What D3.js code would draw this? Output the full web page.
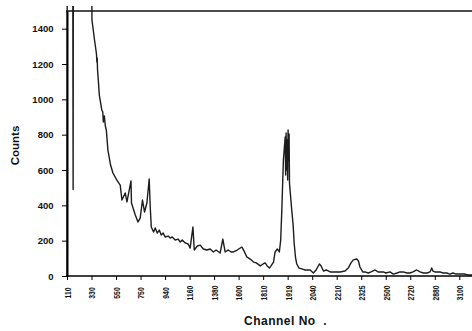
<!DOCTYPE html>
<html>
<head>
<meta charset="utf-8">
<script src="https://cdn.jsdelivr.net/npm/d3@7"></script>
<style>
  body { margin: 0; background: #fff; }
  svg { display: block; font-family: "Liberation Sans", Arial, sans-serif; }
</style>
</head>
<body>
<svg id="chart" width="472" height="331"></svg>
<script>
// tick labels on the channel axis (evenly spaced on the picture)
const tickChannels = [110, 330, 550, 750, 940, 1160, 1380, 1600, 1810, 1919, 2040, 2210, 2325, 2500, 2720, 2880, 3100];
const yTicks = [0, 200, 400, 600, 800, 1000, 1200, 1400];

// spectrum
const channels = [
  110, 113, 160, 165, 168, 326, 334, 357, 372, 375, 378, 381, 384, 391, 400, 422, 431, 436, 445, 454,
  463, 477, 501, 522, 557, 584, 598, 625, 639, 672, 676, 707, 729, 747, 765, 781, 799, 817, 825, 833,
  851, 864, 879, 895, 910, 925, 941, 968, 986, 1004, 1031, 1058, 1076, 1094, 1121, 1147, 1165, 1190, 1202, 1229,
  1256, 1283, 1315, 1345, 1374, 1398, 1434, 1458, 1479, 1506, 1533, 1554, 1587, 1628, 1647, 1670, 1699, 1728, 1751, 1785,
  1810, 1819, 1828, 1838, 1845, 1856, 1863, 1873, 1882, 1888, 1893, 1900, 1908, 1910, 1912, 1915, 1917, 1919, 1921, 1924,
  1926, 1928, 1932, 1939, 1946, 1951, 1958, 1964, 1975, 1989, 2005, 2020, 2030, 2048, 2067, 2090, 2102, 2118, 2137, 2165,
  2200, 2226, 2249, 2264, 2277, 2288, 2304, 2312, 2319, 2336, 2352, 2376, 2395, 2424, 2445, 2483, 2502, 2538, 2568, 2601,
  2628, 2657, 2690, 2717, 2738, 2762, 2784, 2806, 2830, 2849, 2860, 2868, 2881, 2927, 2954, 2987, 3017, 3044, 3071, 3106,
  3142, 3178, 3214
];
const counts = [
  0, 2500, 2500, 490, 2500, 2500, 1449, 1336, 1268, 1251, 1211, 1234, 1166, 1109, 1024, 940, 928, 872, 906, 849,
  826, 713, 628, 583, 543, 515, 430, 470, 419, 538, 413, 345, 306, 328, 430, 362, 413, 549, 391, 277,
  249, 272, 243, 260, 232, 243, 221, 226, 215, 221, 204, 209, 192, 204, 187, 181, 158, 277, 147, 170,
  175, 153, 147, 153, 136, 147, 130, 209, 136, 147, 136, 136, 147, 164, 141, 108, 96, 79, 74, 57,
  68, 74, 57, 45, 57, 79, 136, 153, 136, 204, 374, 657, 787, 572, 810, 600, 770, 543, 826, 657,
  804, 526, 470, 374, 289, 187, 102, 68, 45, 40, 34, 34, 34, 17, 34, 68, 57, 28, 34, 23,
  23, 23, 28, 45, 74, 91, 96, 85, 51, 23, 23, 17, 23, 34, 23, 23, 17, 23, 11, 17,
  23, 23, 17, 17, 23, 34, 23, 17, 17, 23, 45, 28, 23, 23, 17, 17, 11, 17, 11, 11,
  11, 6, 6
];

const W = 472, H = 331;
const plotLeft = 67, plotBottom = 276, plotTop = 11;

const svg = d3.select('#chart');
svg.append('rect').attr('width', W).attr('height', H).attr('fill', '#fff');

const tickPos = d3.scalePoint().domain(tickChannels).range([plotLeft, 459.3]);
const x = d3.scaleLinear()
  .domain(tickChannels)
  .range(tickChannels.map(d => tickPos(d)));

const y = d3.scaleLinear().domain([0, 1500]).range([plotBottom, plotTop]);

svg.append('clipPath').attr('id', 'plot')
  .append('rect').attr('x', plotLeft - 1).attr('y', 6)
  .attr('width', W - plotLeft + 1).attr('height', plotBottom - 6 + 1);

// top border of plot
svg.append('line')
  .attr('x1', plotLeft - 1).attr('x2', W)
  .attr('y1', y(1500)).attr('y2', y(1500))
  .attr('stroke', '#111').attr('stroke-width', 1.6);

const line = d3.line()
  .x((d, i) => x(channels[i]))
  .y(d => y(d));

svg.append('path')
  .datum(counts)
  .attr('clip-path', 'url(#plot)')
  .attr('fill', 'none')
  .attr('stroke', '#1c1c1c')
  .attr('stroke-width', 1.4)
  .attr('stroke-linejoin', 'round')
  .attr('d', line);

// y axis
const yAxis = svg.append('g')
  .attr('transform', `translate(${plotLeft},0)`)
  .call(d3.axisLeft(y).tickValues(yTicks).tickFormat(d3.format('d'))
    .tickSize(5).tickSizeOuter(0).tickPadding(8.5));
yAxis.select('.domain').attr('stroke', '#000').attr('stroke-width', 2);
yAxis.selectAll('.tick line').attr('stroke', '#000');
yAxis.selectAll('.tick text')
  .attr('font-size', 9.5).attr('font-weight', 'bold').attr('fill', '#111');

// x axis
const xAxis = svg.append('g')
  .attr('transform', `translate(0,${plotBottom})`)
  .call(d3.axisBottom(x).tickValues(tickChannels).tickFormat(d3.format('d'))
    .tickSize(4).tickSizeOuter(0));
xAxis.select('.domain').remove();
xAxis.selectAll('.tick line').attr('stroke', '#000');
xAxis.selectAll('.tick text')
  .attr('x', 0).attr('y', 0).attr('dy', '0.35em')
  .attr('text-anchor', 'middle')
  .attr('transform', 'translate(0,17) rotate(-90) scale(0.72,1)')
  .attr('font-size', 9.5).attr('font-weight', 'bold').attr('fill', '#111');
xAxis.append('line')
  .attr('x1', plotLeft - 1).attr('x2', W)
  .attr('stroke', '#000').attr('stroke-width', 1.5);

// axis titles
svg.append('text')
  .attr('transform', `translate(18.5,${(plotTop + plotBottom) / 2 + 2}) rotate(-90)`)
  .attr('text-anchor', 'middle')
  .attr('font-size', 11.5).attr('font-weight', 'bold').attr('fill', '#111')
  .text('Counts');

svg.append('text')
  .attr('x', 244).attr('y', 325)
  .attr('font-size', 12).attr('font-weight', 'bold').attr('fill', '#111')
  .attr('letter-spacing', 0.5)
  .attr('xml:space', 'preserve')
  .text('Channel No  .');
</script>
</body>
</html>
